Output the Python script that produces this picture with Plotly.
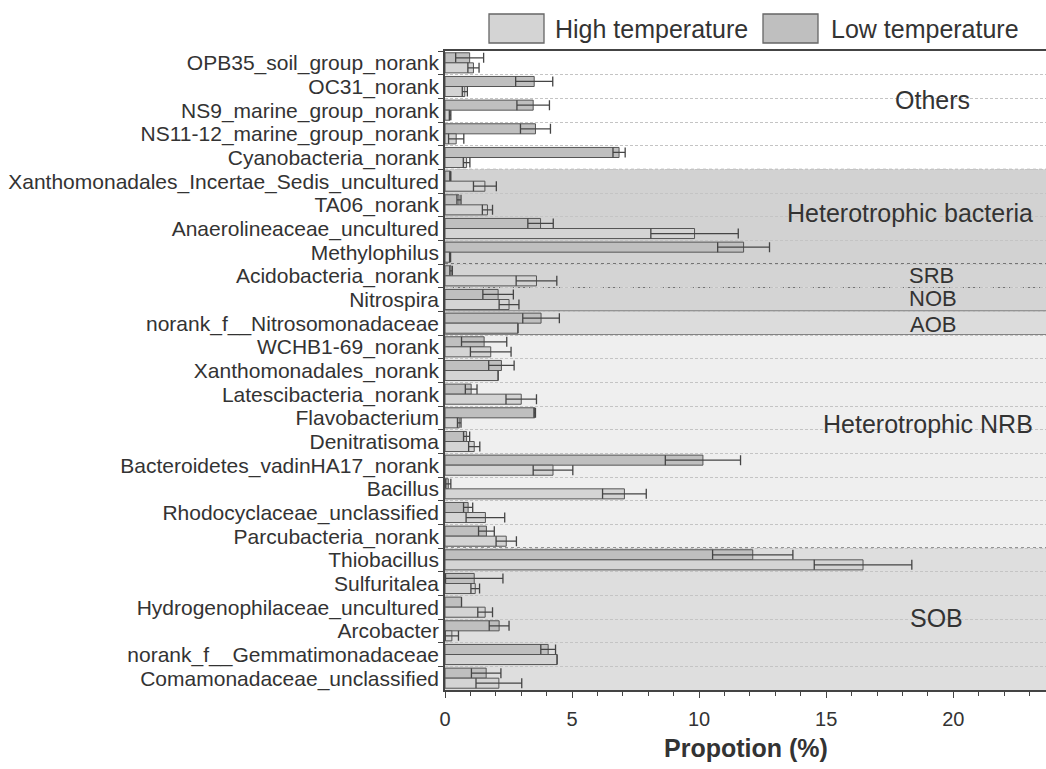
import plotly.graph_objects as go

# ---------------- data ----------------
categories = [
    "OPB35_soil_group_norank", "OC31_norank", "NS9_marine_group_norank",
    "NS11-12_marine_group_norank", "Cyanobacteria_norank",
    "Xanthomonadales_Incertae_Sedis_uncultured", "TA06_norank",
    "Anaerolineaceae_uncultured", "Methylophilus", "Acidobacteria_norank",
    "Nitrospira", "norank_f__Nitrosomonadaceae", "WCHB1-69_norank",
    "Xanthomonadales_norank", "Latescibacteria_norank", "Flavobacterium",
    "Denitratisoma", "Bacteroidetes_vadinHA17_norank", "Bacillus",
    "Rhodocyclaceae_unclassified", "Parcubacteria_norank", "Thiobacillus",
    "Sulfuritalea", "Hydrogenophilaceae_uncultured", "Arcobacter",
    "norank_f__Gemmatimonadaceae", "Comamonadaceae_unclassified",
]

low_mean = [0.97, 3.51, 3.47, 3.56, 6.85, 0.21, 0.55, 3.76, 11.75, 0.24,
            2.09, 3.78, 1.54, 2.22, 1.03, 3.53, 0.85, 10.15, 0.13, 0.91,
            1.63, 12.11, 1.15, 0.65, 2.13, 4.06, 1.62]
low_sd = [0.55, 0.73, 0.64, 0.59, 0.24, 0.02, 0.08, 0.50, 1.02, 0.05,
          0.60, 0.72, 0.89, 0.50, 0.23, 0.03, 0.12, 1.48, 0.10, 0.18,
          0.31, 1.58, 1.13, 0.0, 0.39, 0.29, 0.58]

high_mean = [1.12, 0.78, 0.20, 0.44, 0.85, 1.57, 1.67, 9.82, 0.20, 3.60,
             2.52, 2.87, 1.80, 2.09, 3.00, 0.56, 1.15, 4.25, 7.06, 1.59,
             2.41, 16.45, 1.19, 1.58, 0.27, 4.41, 2.12]
high_sd = [0.22, 0.10, 0.03, 0.30, 0.13, 0.45, 0.20, 1.72, 0.02, 0.80,
           0.39, 0.0, 0.80, 0.0, 0.60, 0.07, 0.22, 0.78, 0.86, 0.76,
           0.40, 1.92, 0.17, 0.29, 0.26, 0.0, 0.90]

group_names = ["Others", "Heterotrophic bacteria", "SRB", "NOB", "AOB",
               "Heterotrophic NRB", "SOB"]
group_sizes = [5, 4, 1, 1, 1, 9, 6]

# ---------------- styling ----------------
W, H = 1046, 769
ML, MR, MT, MB = 445, 0, 51, 79
PW, PH = W - ML - MR, H - MT - MB
FONT = "Liberation Sans, Arial, sans-serif"
TXT = "#333333"

band_colors = ["#ffffff", "#d2d2d2", "#d4d4d4", "#d4d4d4", "#dcdcdc",
               "#efefef", "#dedede"]
# border below each band (between it and the next)
border_styles = [("dot", "#a0a0a0", 1.2), ("dot", "#555555", 1.5),
                 ("dot", "#555555", 1.5), ("solid", "#555555", 1.5),
                 ("solid", "#666666", 1.5), ("dot", "#777777", 1.5)]
# label placement per band: (pixel x, xanchor, y offset in rows from band top, font size)
label_place = [(932, "center", 2.06, 25), (1035, "right", 1.84, 25),
               (931, "center", 0.5, 22), (933, "center", 0.47, 22),
               (933, "center", 0.56, 22), (1035, "right", 3.76, 25),
               (936, "center", 2.95, 25)]


def px_x(px):
    return (px - ML) / PW


def px_y(py):
    return (H - MB - py) / PH


fig = go.Figure()
fig.add_trace(go.Bar(
    name="Low temperature", y=categories, x=low_mean, orientation="h",
    marker=dict(color="#bfbfbf", line=dict(color="#555555", width=1)),
    error_x=dict(type="data", array=low_sd, symmetric=True, color="#454545",
                 thickness=1.3, width=5),
    showlegend=False,
))
fig.add_trace(go.Bar(
    name="High temperature", y=categories, x=high_mean, orientation="h",
    marker=dict(color="#d4d4d4", line=dict(color="#555555", width=1)),
    error_x=dict(type="data", array=high_sd, symmetric=True, color="#454545",
                 thickness=1.3, width=5),
    showlegend=False,
))

shapes = []
annotations = []
start = 0
for i, (name, n) in enumerate(zip(group_names, group_sizes)):
    y0, y1 = start - 0.5, start + n - 0.5
    shapes.append(dict(type="rect", xref="paper", yref="y", x0=0, x1=1,
                       y0=y0, y1=y1, fillcolor=band_colors[i],
                       line=dict(width=0), layer="below"))
    if i < len(border_styles):
        dash, col, wd = border_styles[i]
        shapes.append(dict(type="line", xref="paper", yref="y", x0=0, x1=1,
                           y0=y1, y1=y1, line=dict(color=col, width=wd, dash=dash),
                           layer="between"))
    lx, anch, off, fs = label_place[i]
    annotations.append(dict(text=name, xref="paper", yref="y", x=px_x(lx),
                            y=start - 0.5 + off, xanchor=anch, yanchor="middle",
                            showarrow=False, font=dict(family=FONT, size=fs, color=TXT)))
    start += n

# manual legend
legend_items = [("High temperature", "#d4d4d4", 489, 544, 553),
                ("Low temperature", "#bfbfbf", 763, 818, 829)]
for label, col, sx0, sx1, tx in legend_items:
    shapes.append(dict(type="rect", xref="paper", yref="paper",
                       x0=px_x(sx0), x1=px_x(sx1), y0=px_y(43), y1=px_y(14),
                       fillcolor=col, line=dict(color="#666666", width=1.3)))
    annotations.append(dict(text=label, xref="paper", yref="paper", x=px_x(tx),
                            y=px_y(29), xanchor="left", yanchor="middle",
                            showarrow=False, font=dict(family=FONT, size=25, color=TXT)))

annotations.append(dict(text="<b>Propotion (%)</b>", xref="paper", yref="paper",
                        x=0.5, y=px_y(748), xanchor="center", yanchor="middle",
                        showarrow=False, font=dict(family=FONT, size=25, color=TXT)))

fig.update_layout(
    width=W, height=H,
    margin=dict(l=ML, r=MR, t=MT, b=MB, pad=0),
    paper_bgcolor="white", plot_bgcolor="white",
    barmode="group", bargap=0.15, bargroupgap=0,
    shapes=shapes, annotations=annotations,
    font=dict(family=FONT, color=TXT),
    xaxis=dict(range=[0, 23.65], showline=True, linecolor="#444444", linewidth=1.5,
               mirror=True, ticks="outside", ticklen=6, tickcolor="#444444",
               tick0=0, dtick=5, showgrid=False, zeroline=False,
               tickfont=dict(family=FONT, size=20, color=TXT),
               ticklabelstandoff=4,
               minor=dict(dtick=1, ticks="outside", ticklen=4, tickcolor="#444444",
                          showgrid=False)),
    yaxis=dict(type="category", categoryorder="array", categoryarray=categories,
               autorange="reversed", tickmode="linear", tick0=0, dtick=1,
               tickson="boundaries", ticks="outside",
               ticklen=5, tickcolor="#444444", showgrid=True, gridcolor="#c4c4c4",
               griddash="3px,2px", gridwidth=1, showline=True, linecolor="#444444",
               linewidth=1.5, zeroline=False,
               tickfont=dict(family=FONT, size=21, color=TXT)),
)

fig.write_html("out.html")
